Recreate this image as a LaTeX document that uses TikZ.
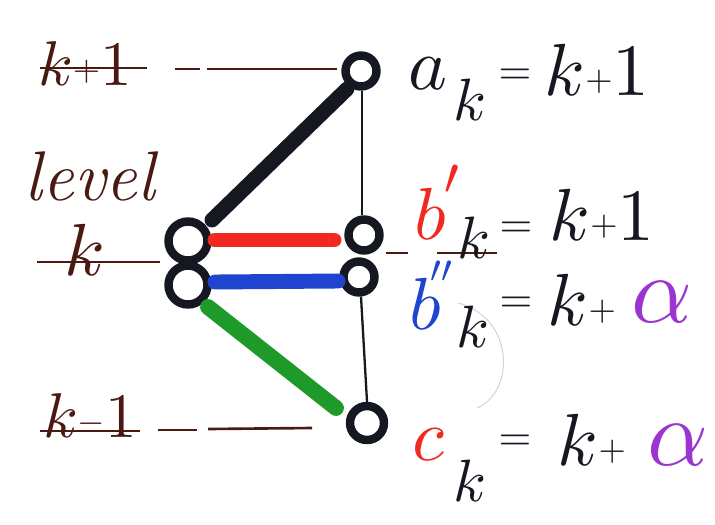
\documentclass[tikz,border=0pt]{standalone}
\usepackage{graphicx}
\usepackage{xcolor}
\usetikzlibrary{calc}
\definecolor{inkbrown}{HTML}{4A1A12}
\definecolor{inkred}{HTML}{F02A20}
\definecolor{inkblue}{HTML}{1E44D0}
\definecolor{inkgreen}{HTML}{1E9A2A}
\definecolor{inkpurple}{HTML}{9A35D2}
\definecolor{inkblack}{HTML}{151820}
\newcommand\BIGM[1]{\scalebox{4.2}{$#1$}}
\newcommand\SUBM[1]{\scalebox{3.4}{$#1$}}
\newcommand\LVLM[1]{\scalebox{3.6}{$#1$}}
\newcommand\OPSM[1]{\raisebox{3pt}{\scalebox{2.0}{$#1$}}}
\newcommand\EQSM{\scalebox{2.4}{$=$}}
\newcommand\ALPHM{\scalebox{5.4}{$\alpha$}}
\newcommand\PRM[2]{\scalebox{#1}{$#2$}}
\begin{document}
\begin{tikzpicture}[x=0.02cm,y=-0.02cm,
  circ/.style={circle,draw=inkblack,line width=4.8pt,minimum size=0.62cm,inner sep=0pt},
  bigcirc/.style={circ,minimum size=0.78cm},
  edge/.style={line width=8.5pt,line cap=round},
  guide/.style={draw=inkbrown,line width=1.5pt},
  vline/.style={draw=inkblack,line width=1.3pt},
  lvl/.style={text=inkbrown,inner sep=0pt},
  eq/.style={text=inkblack,inner sep=0pt}]
\useasboundingbox (0,0) rectangle (715,524);
\fill[white] (0,0) rectangle (715,524);

% left level labels
\node[lvl] (kp1) at (85,64) {\LVLM{k}\OPSM{+}\LVLM{1}};
\node[lvl,font=\fontsize{40}{40}\selectfont] (level) at (90,176) {\itshape level};
\node[lvl] (kl) at (85,250) {\scalebox{4.2}{$k$}};
\node[lvl] (km1) at (90,416) {\LVLM{k}\OPSM{-}\LVLM{1}};

% circles
\node[bigcirc] (lu) at (188,241) {};
\node[bigcirc] (ll) at (188,285) {};
\node[circ] (t) at (361,71) {};
\node[circ] (rm1) at (364,235) {};
\node[circ] (rm2) at (359,277) {};
\node[circ,minimum size=0.68cm] (b) at (367,423) {};

% level guide lines
\coordinate (g1a) at (40,68);  \coordinate (g1b) at (147,68);
\coordinate (g1c) at (175,69); \coordinate (g1d) at (200,69);
\coordinate (g1e) at (207,69); \coordinate (g1f) at (337,69);
\draw[guide] (g1a) -- (g1b);
\draw[guide] (g1c) -- (g1d);
\draw[guide] (g1e) -- (g1f);

\coordinate (g2a) at (37,262); \coordinate (g2b) at (160,262);
\draw[guide] (g2a) -- (g2b);
\coordinate (g2c) at (386,253); \coordinate (g2d) at (408,253);
\coordinate (g2e) at (437,253); \coordinate (g2f) at (497,253);
\draw[guide] (g2c) -- (g2d);
\draw[guide] (g2e) -- (g2f);

\coordinate (g3a) at (40,431); \coordinate (g3b) at (140,431);
\coordinate (g3c) at (158,430); \coordinate (g3d) at (197,430);
\coordinate (g3e) at (208,429); \coordinate (g3f) at (312,428);
\draw[guide] (g3a) -- (g3b);
\draw[guide] (g3c) -- (g3d);
\draw[guide] (g3e) -- (g3f);

% vertical thin line
\draw[vline] ($(t.south)+(1,0)$) -- ($(rm1.north)+(-2,0)$);
\draw[vline] ($(rm2.south)+(2,0)$) -- (b.north);

% coloured edges
\coordinate (bk1) at (212,220); \coordinate (bk2) at (347,89);
\draw[edge,draw=inkblack] (bk1) -- (bk2);
\coordinate (rd1) at (215,240); \coordinate (rd2) at (334,240);
\draw[edge,draw=inkred] (rd1) -- (rd2);
\coordinate (bl1) at (215,282); \coordinate (bl2) at (338,281);
\draw[edge,draw=inkblue] (bl1) -- (bl2);
\coordinate (gr1) at (208,307); \coordinate (gr2) at (336,408);
\draw[edge,draw=inkgreen,line width=9pt] (gr1) -- (gr2);

% faint arc
\draw[black!16,line width=0.6pt] (458,303) .. controls (515,318) and (515,392) .. (477,408);

% right equations
\node[eq] (a) at (428,74) {\BIGM{a}};
\node[eq] (ak) at (470,100) {\SUBM{k}};
\node[eq] (aeq) at (515,77) {\EQSM};
\node[eq] (arhs) at (597,70) {\BIGM{k}\OPSM{+}\BIGM{1}};

\node[eq,text=inkred] (bp) at (430,214) {\BIGM{b}};
\node[eq,text=inkred] (bpprime) at (452,180) {\PRM{3.0}{\prime}};
\node[eq] (bpk) at (474,238) {\SUBM{k}};
\node[eq] (bpeq) at (516,230) {\EQSM};
\node[eq] (bprhs) at (602,215) {\BIGM{k}\OPSM{+}\BIGM{1}};

\node[eq,text=inkblue] (bpp) at (425,304) {\BIGM{b}};
\node[eq,text=inkblue] (bppprime) at (441,272) {\PRM{2.2}{\prime\prime}};
\node[eq] (bppk) at (473,327) {\SUBM{k}};
\node[eq] (bppeq) at (516,305) {\EQSM};
\node[eq] (bpprhs) at (582,300) {\BIGM{k}\OPSM{+}};
\node[eq,text=inkpurple] (al1) at (662,302) {\ALPHM};

\node[eq,text=inkred] (c) at (428,445) {\BIGM{c}};
\node[eq] (ck) at (470,481) {\SUBM{k}};
\node[eq] (ceq) at (515,443) {\EQSM};
\node[eq] (crhs) at (592,440) {\BIGM{k}\OPSM{+}};
\node[eq,text=inkpurple] (al2) at (678,445) {\ALPHM};
\end{tikzpicture}
\end{document}
